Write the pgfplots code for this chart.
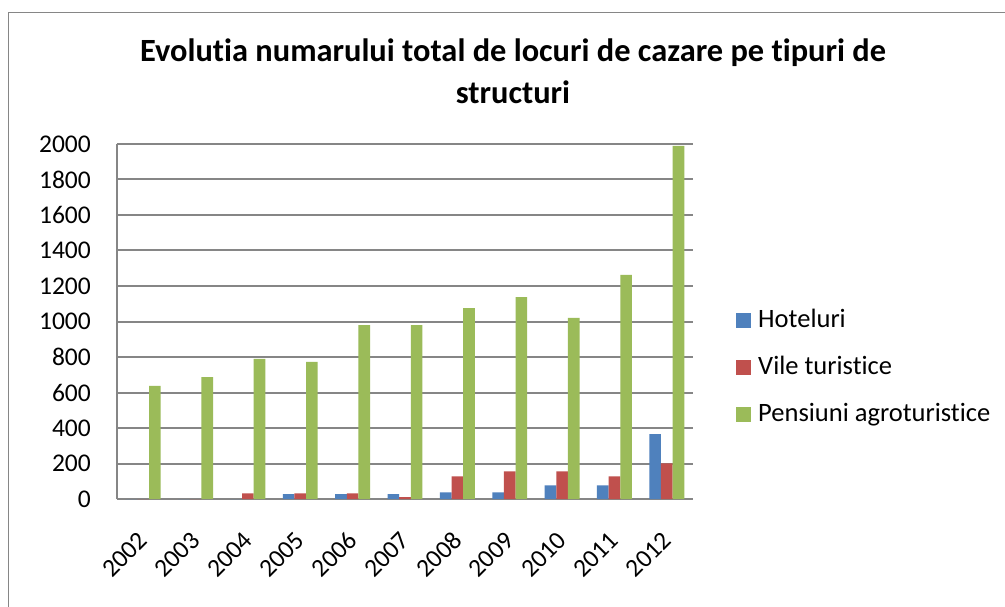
\documentclass[border=0pt]{standalone}
\usepackage{pgfplots}
\pgfplotsset{compat=1.18}
\usepackage{fontspec}
\setmainfont{Carlito}[Ligatures=NoCommon]
\definecolor{hot}{HTML}{4F81BD}
\definecolor{vil}{HTML}{C0504D}
\definecolor{pen}{HTML}{9BBB59}
\definecolor{gridc}{HTML}{868686}
\pgfplotstableread{
x hot vil pen
0 0 0 637
1 0 0 687
2 0 32 789
3 27 32 772
4 27 32 980
5 27 10 980
6 38 128 1076
7 38 156 1138
8 77 156 1020
9 77 128 1262
10 365 201 1989
}\datatable
\begin{document}
\begin{tikzpicture}
\useasboundingbox (0pt,0pt) rectangle (1005pt,606pt);
\fill[white] (0pt,0pt) rectangle (1005pt,606pt);
\draw[gridc, line width=1.5pt] (8.7pt,-2pt) -- (8.7pt,593.3pt) -- (1010pt,593.3pt);
\begin{axis}[
  at={(117pt,107pt)}, anchor=south west,
  scale only axis, width=576pt, height=355pt,
  xmin=-0.5, xmax=10.5, ymin=0, ymax=2000,
  ybar=0pt, bar width=11.65pt,
  axis lines*=left,
  axis line style={-, draw=gridc, line width=2pt},
  ytick={0,200,...,2000},
  ymajorgrids, grid style={draw=gridc, line width=2pt},
  xtick={0,...,10},
  xticklabels={2002,2003,2004,2005,2006,2007,2008,2009,2010,2011,2012},
  major tick length=0pt,
  /pgf/number format/1000 sep={},
  /pgf/number format/assume math mode=true,
  yticklabel style={font=\fontsize{25.5}{25.5}\selectfont, anchor=east, inner sep=0pt, xshift=-26pt},
  xticklabel style={font=\fontsize{25.5}{25.5}\selectfont, inner sep=0pt, yshift=-37pt, rotate=45, anchor=east},
  title={Evolutia numarului total de locuri de cazare pe tipuri de\\[8pt]structuri},
  title style={font=\bfseries\fontsize{32.4}{33.5}\selectfont, align=center, at={(0.6875,1.0)}, anchor=south, yshift=31pt},
  legend style={at={(1.0747,0.535)}, anchor=north west, draw=none, fill=none,
    inner sep=0pt, font=\fontsize{26.5}{26.5}\selectfont,
    nodes={inner sep=0pt, text height=18pt, text depth=5pt},
    row sep=24pt, column sep=7pt},
  legend cell align=left,
  legend image code/.code={\fill[#1] (0pt,-7.5pt) rectangle (15pt,7.5pt);},
  enlargelimits=false,
  clip=false,
]
\addplot[fill=hot, draw=none] table[x=x, y=hot] {\datatable};
\addplot[fill=vil, draw=none] table[x=x, y=vil] {\datatable};
\addplot[fill=pen, draw=none] table[x=x, y=pen] {\datatable};
\legend{Hoteluri, Vile turistice, Pensiuni agroturistice}
\end{axis}
\end{tikzpicture}
\end{document}
